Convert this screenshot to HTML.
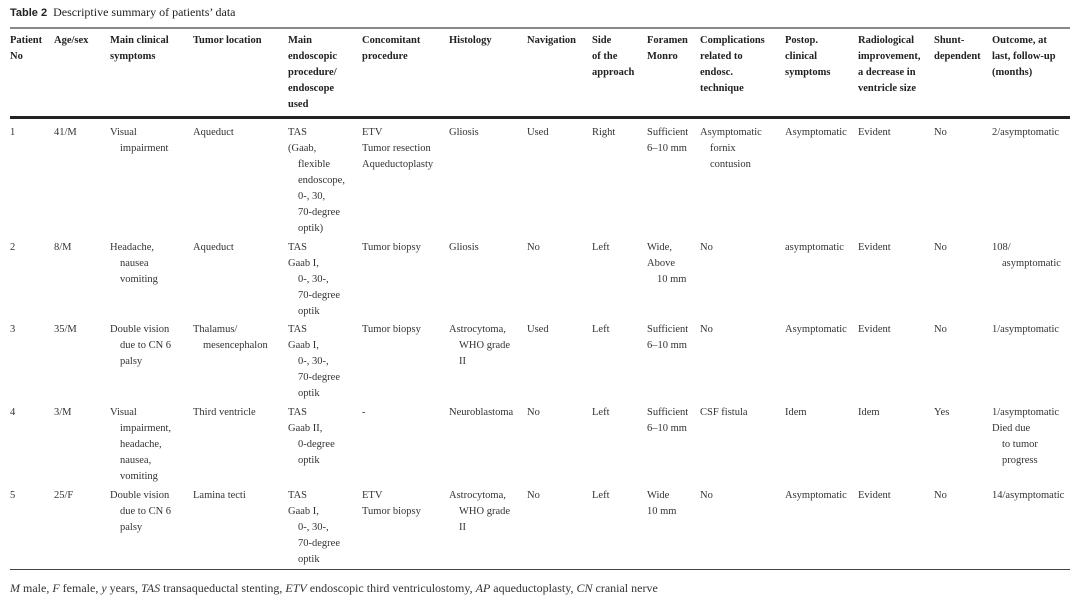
<!DOCTYPE html><html><head><meta charset="utf-8"><style>
body{margin:0;width:1080px;height:598px;background:#fff;position:relative;overflow:hidden;font-family:"Liberation Serif",serif;color:#333;font-size:10.5px}
.c{position:absolute;line-height:16px;white-space:nowrap}
.h{font-weight:bold;color:#222}
.i{padding-left:10px}
.r{position:absolute;left:10px;width:1060px}
</style></head><body>
<div class="c" style="left:10px;top:4px;font-size:12px;color:#222"><span style="font-family:'Liberation Sans',sans-serif;font-weight:bold;font-size:11px">Table 2</span>&nbsp; Descriptive summary of patients’ data</div>
<div class="r" style="top:27px;height:2px;background:#888"></div>
<div class="r" style="top:116px;height:3px;background:#222"></div>
<div class="r" style="top:569px;height:1px;background:#444"></div>
<div id="t"></div>
<div class="c" style="left:10px;top:580px;font-size:12px">
<i>M</i> male, <i>F</i> female, <i>y</i> years, <i>TAS</i> transaqueductal stenting, <i>ETV</i> endoscopic third ventriculostomy, <i>AP</i> aqueductoplasty, <i>CN</i> cranial nerve</div>
<script>
const X=[10,54,110,193,288,362,449,527,592,647,700,785,858,934,992];
const H=[["Patient","No"],["Age/sex"],["Main clinical","symptoms"],["Tumor location"],["Main","endoscopic","procedure/","endoscope","used"],["Concomitant","procedure"],["Histology"],["Navigation"],["Side","of the","approach"],["Foramen","Monro"],["Complications","related to","endosc.","technique"],["Postop.","clinical","symptoms"],["Radiological","improvement,","a decrease in","ventricle size"],["Shunt-","dependent"],["Outcome, at","last, follow-up","(months)"]];
const R=[[131,[["1"],["41/M"],["Visual","~impairment"],["Aqueduct"],["TAS","(Gaab,","~flexible","~endoscope,","~0-, 30,","~70-degree","~optik)"],["ETV","Tumor resection","Aqueductoplasty"],["Gliosis"],["Used"],["Right"],["Sufficient","6–10 mm"],["Asymptomatic","~fornix","~contusion"],["Asymptomatic"],["Evident"],["No"],["2/asymptomatic"]]],
[246,[["2"],["8/M"],["Headache,","~nausea","~vomiting"],["Aqueduct"],["TAS","Gaab I,","~0-, 30-,","~70-degree","~optik"],["Tumor biopsy"],["Gliosis"],["No"],["Left"],["Wide,","Above","~10 mm"],["No"],["asymptomatic"],["Evident"],["No"],["108/","~asymptomatic"]]],
[328,[["3"],["35/M"],["Double vision","~due to CN 6","~palsy"],["Thalamus/","~mesencephalon"],["TAS","Gaab I,","~0-, 30-,","~70-degree","~optik"],["Tumor biopsy"],["Astrocytoma,","~WHO grade","~II"],["Used"],["Left"],["Sufficient","6–10 mm"],["No"],["Asymptomatic"],["Evident"],["No"],["1/asymptomatic"]]],
[411,[["4"],["3/M"],["Visual","~impairment,","~headache,","~nausea,","~vomiting"],["Third ventricle"],["TAS","Gaab II,","~0-degree","~optik"],["-"],["Neuroblastoma"],["No"],["Left"],["Sufficient","6–10 mm"],["CSF fistula"],["Idem"],["Idem"],["Yes"],["1/asymptomatic","Died due","~to tumor","~progress"]]],
[494,[["5"],["25/F"],["Double vision","~due to CN 6","~palsy"],["Lamina tecti"],["TAS","Gaab I,","~0-, 30-,","~70-degree","~optik"],["ETV","Tumor biopsy"],["Astrocytoma,","~WHO grade","~II"],["No"],["Left"],["Wide","10 mm"],["No"],["Asymptomatic"],["Evident"],["No"],["14/asymptomatic"]]]];
let s="";
function cell(x,y,lines,cls){s+=`<div class="c ${cls}" style="left:${x}px;top:${y-6}px">`+lines.map(l=>l[0]=="~"?`<div class="i">${l.slice(1)}</div>`:`<div>${l}</div>`).join("")+"</div>";}
H.forEach((h,i)=>cell(X[i],39,h,"h"));
R.forEach(([y,cs])=>cs.forEach((c,i)=>cell(X[i],y,c,"")));
document.getElementById("t").innerHTML=s;
</script>
</body></html>
